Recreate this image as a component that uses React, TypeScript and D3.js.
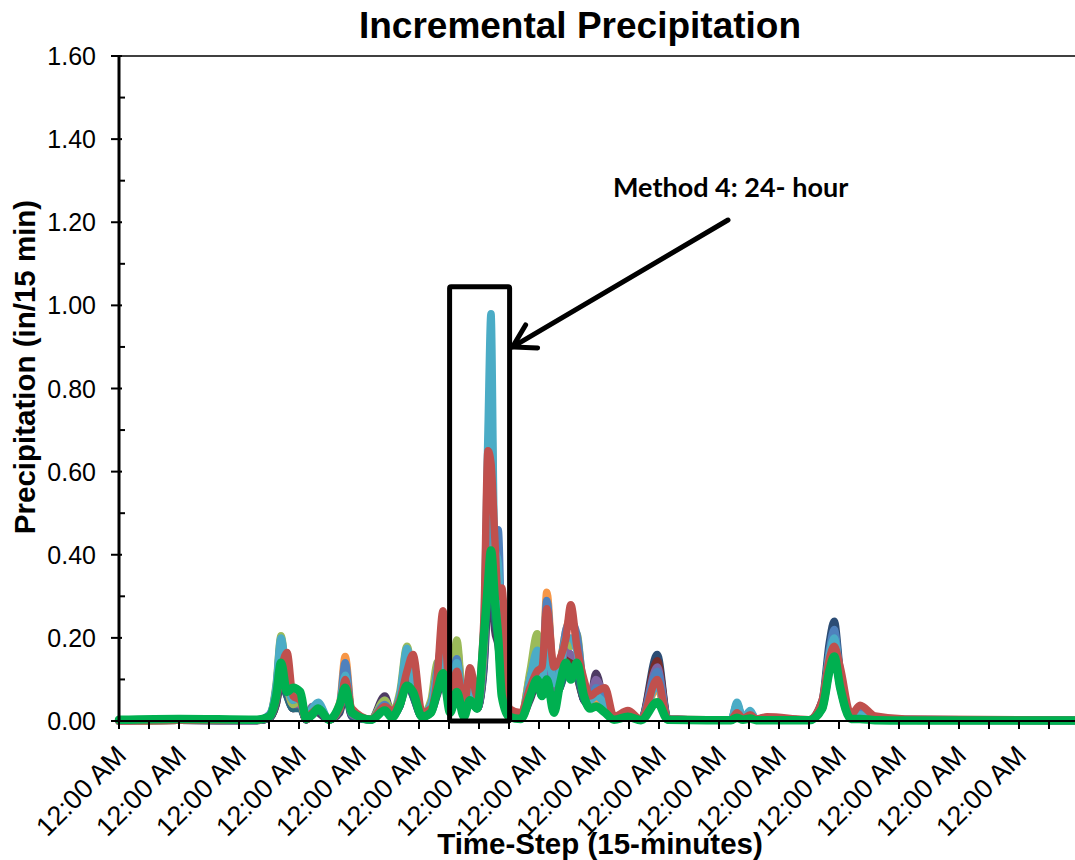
import React from "react";
import * as d3 from "d3";

// sample times, in days from the first 12:00 AM
const times = [
  0, 1.0, 2.3, 2.5, 2.62, 2.7, 2.8, 2.9, 3.02, 3.12, 3.22, 3.32, 3.5, 3.68, 3.77, 3.88,
  4.2, 4.43, 4.55, 4.68, 4.8, 4.9, 5.05, 5.2, 5.3, 5.4, 5.52, 5.63, 5.75, 5.85, 5.97,
  6.08, 6.15, 6.2, 6.26, 6.32, 6.38, 6.5, 6.7, 6.85, 6.97, 7.05, 7.13, 7.25, 7.35, 7.45,
  7.53, 7.63, 7.75, 7.85, 7.95, 8.1, 8.25, 8.48, 8.7, 8.97, 9.15, 9.8, 10.2, 10.3, 10.4, 10.52, 10.62, 10.8,
  11.5, 11.72, 11.84, 11.92, 12.02, 12.2, 12.35, 12.6, 13.1, 16,
];

const blue = [
  0, 0.003, 0.002, 0.015, 0.08, 0.19, 0.1, 0.05, 0.06, 0.005, 0.03, 0.04, 0.003, 0.04, 0.14, 0.02,
  0.003, 0.04, 0.02, 0.06, 0.16, 0.12, 0.015, 0.04, 0.12, 0.2, 0.05, 0.15, 0.02, 0.09, 0.05,
  0.2, 0.6, 0.79, 0.4, 0.46, 0.2, 0.02, 0.01, 0.1, 0.16, 0.1, 0.29, 0.1, 0.13, 0.22,
  0.24, 0.21, 0.08, 0.05, 0.08, 0.05, 0.008, 0.02, 0.003, 0.12, 0.004, 0.002, 0.002, 0.03, 0.005, 0.02, 0.004, 0.008,
  0.002, 0.04, 0.17, 0.22, 0.11, 0.012, 0.02, 0.01, 0.004, 0.001,
];
const red = [
  0, 0.002, 0.002, 0.01, 0.05, 0.12, 0.165, 0.06, 0.05, 0.005, 0.02, 0.03, 0.004, 0.03, 0.1, 0.03,
  0.004, 0.035, 0.025, 0.05, 0.12, 0.16, 0.02, 0.03, 0.1, 0.265, 0.06, 0.12, 0.03, 0.128, 0.06,
  0.24, 0.65, 0.62, 0.45, 0.3, 0.32, 0.03, 0.02, 0.08, 0.12, 0.13, 0.27, 0.13, 0.15, 0.2,
  0.28, 0.18, 0.1, 0.06, 0.07, 0.08, 0.01, 0.025, 0.004, 0.1, 0.005, 0.003, 0.003, 0.02, 0.006, 0.015, 0.005, 0.01,
  0.003, 0.05, 0.15, 0.18, 0.13, 0.015, 0.038, 0.012, 0.005, 0.002,
];
const olive = [
  0, 0.002, 0.002, 0.012, 0.09, 0.205, 0.09, 0.04, 0.05, 0.004, 0.025, 0.035, 0.003, 0.035, 0.12, 0.02,
  0.003, 0.05, 0.02, 0.07, 0.18, 0.1, 0.015, 0.05, 0.14, 0.15, 0.04, 0.195, 0.02, 0.11, 0.04,
  0.18, 0.4, 0.45, 0.44, 0.3, 0.15, 0.02, 0.01, 0.12, 0.21, 0.1, 0.25, 0.1, 0.14, 0.2,
  0.18, 0.21, 0.07, 0.05, 0.07, 0.04, 0.006, 0.02, 0.003, 0.09, 0.003, 0.002, 0.002, 0.02, 0.004, 0.015, 0.003, 0.006,
  0.002, 0.04, 0.16, 0.2, 0.1, 0.01, 0.015, 0.008, 0.003, 0.001,
];
const purple = [
  0, 0.002, 0.001, 0.008, 0.06, 0.17, 0.08, 0.04, 0.04, 0.004, 0.035, 0.03, 0.003, 0.03, 0.1, 0.015,
  0.003, 0.05, 0.015, 0.05, 0.14, 0.09, 0.01, 0.035, 0.09, 0.13, 0.04, 0.18, 0.02, 0.08, 0.03,
  0.15, 0.45, 0.6, 0.3, 0.25, 0.12, 0.015, 0.01, 0.09, 0.14, 0.08, 0.18, 0.08, 0.12, 0.17,
  0.16, 0.15, 0.06, 0.06, 0.1, 0.05, 0.005, 0.02, 0.003, 0.13, 0.004, 0.002, 0.002, 0.03, 0.005, 0.02, 0.004, 0.008,
  0.002, 0.03, 0.14, 0.19, 0.09, 0.01, 0.012, 0.006, 0.003, 0.001,
];
const aqua = [
  0, 0.003, 0.002, 0.012, 0.085, 0.2, 0.1, 0.05, 0.06, 0.005, 0.03, 0.045, 0.003, 0.04, 0.11, 0.02,
  0.003, 0.03, 0.02, 0.06, 0.175, 0.1, 0.015, 0.04, 0.11, 0.17, 0.05, 0.14, 0.02, 0.09, 0.05,
  0.22, 0.7, 0.98, 0.42, 0.38, 0.18, 0.02, 0.01, 0.1, 0.17, 0.09, 0.2, 0.09, 0.12, 0.2,
  0.2, 0.17, 0.07, 0.05, 0.06, 0.04, 0.006, 0.02, 0.003, 0.09, 0.003, 0.002, 0.002, 0.045, 0.006, 0.025, 0.004, 0.008,
  0.002, 0.04, 0.16, 0.2, 0.11, 0.01, 0.015, 0.008, 0.003, 0.001,
];
const orange = [
  0, 0.002, 0.002, 0.01, 0.07, 0.15, 0.09, 0.04, 0.05, 0.004, 0.02, 0.035, 0.003, 0.045, 0.155, 0.025,
  0.003, 0.03, 0.03, 0.05, 0.15, 0.11, 0.015, 0.03, 0.08, 0.14, 0.04, 0.11, 0.02, 0.07, 0.04,
  0.2, 0.55, 0.8, 0.35, 0.3, 0.15, 0.02, 0.01, 0.11, 0.15, 0.1, 0.31, 0.1, 0.14, 0.22,
  0.25, 0.19, 0.08, 0.05, 0.05, 0.04, 0.006, 0.02, 0.003, 0.08, 0.003, 0.002, 0.002, 0.02, 0.004, 0.015, 0.003, 0.006,
  0.002, 0.035, 0.15, 0.19, 0.1, 0.01, 0.02, 0.008, 0.003, 0.001,
];
const darkBlue = [
  0, 0.002, 0.001, 0.008, 0.05, 0.12, 0.07, 0.03, 0.04, 0.003, 0.02, 0.03, 0.003, 0.03, 0.09, 0.015,
  0.003, 0.045, 0.015, 0.04, 0.12, 0.08, 0.01, 0.03, 0.08, 0.12, 0.03, 0.1, 0.015, 0.06, 0.03,
  0.15, 0.4, 0.5, 0.3, 0.25, 0.1, 0.015, 0.008, 0.07, 0.12, 0.07, 0.15, 0.07, 0.1, 0.15,
  0.15, 0.13, 0.05, 0.04, 0.06, 0.03, 0.005, 0.015, 0.003, 0.16, 0.004, 0.002, 0.002, 0.02, 0.004, 0.015, 0.003, 0.006,
  0.002, 0.05, 0.19, 0.24, 0.12, 0.012, 0.015, 0.006, 0.003, 0.001,
];
const darkRed = [
  0, 0.002, 0.001, 0.006, 0.04, 0.1, 0.08, 0.03, 0.035, 0.003, 0.015, 0.025, 0.003, 0.025, 0.08, 0.015,
  0.003, 0.03, 0.015, 0.04, 0.1, 0.09, 0.01, 0.025, 0.07, 0.16, 0.03, 0.09, 0.015, 0.07, 0.03,
  0.14, 0.38, 0.45, 0.28, 0.2, 0.12, 0.015, 0.008, 0.06, 0.1, 0.07, 0.14, 0.07, 0.09, 0.13,
  0.16, 0.11, 0.05, 0.04, 0.05, 0.04, 0.005, 0.015, 0.003, 0.145, 0.004, 0.002, 0.002, 0.015, 0.004, 0.01, 0.003, 0.005,
  0.002, 0.04, 0.15, 0.17, 0.1, 0.01, 0.02, 0.006, 0.003, 0.001,
];
const darkPurple = [
  0, 0.002, 0.001, 0.006, 0.04, 0.09, 0.06, 0.03, 0.035, 0.003, 0.03, 0.02, 0.003, 0.02, 0.07, 0.01,
  0.003, 0.06, 0.015, 0.035, 0.09, 0.06, 0.01, 0.02, 0.06, 0.1, 0.03, 0.13, 0.015, 0.05, 0.03,
  0.12, 0.3, 0.38, 0.22, 0.18, 0.09, 0.012, 0.008, 0.05, 0.09, 0.06, 0.12, 0.06, 0.08, 0.12,
  0.12, 0.12, 0.05, 0.05, 0.115, 0.03, 0.004, 0.015, 0.003, 0.12, 0.003, 0.002, 0.002, 0.03, 0.005, 0.012, 0.003, 0.005,
  0.002, 0.03, 0.12, 0.16, 0.08, 0.008, 0.01, 0.005, 0.002, 0.001,
];
const teal = [
  0, 0.002, 0.001, 0.006, 0.045, 0.11, 0.06, 0.03, 0.03, 0.003, 0.02, 0.025, 0.003, 0.025, 0.075, 0.012,
  0.003, 0.025, 0.012, 0.035, 0.1, 0.06, 0.01, 0.025, 0.065, 0.11, 0.03, 0.09, 0.015, 0.05, 0.03,
  0.13, 0.35, 0.42, 0.25, 0.2, 0.1, 0.012, 0.008, 0.06, 0.1, 0.06, 0.13, 0.06, 0.08, 0.12,
  0.13, 0.11, 0.05, 0.035, 0.05, 0.03, 0.004, 0.015, 0.003, 0.1, 0.003, 0.002, 0.002, 0.04, 0.005, 0.015, 0.003, 0.005,
  0.002, 0.04, 0.14, 0.18, 0.09, 0.008, 0.01, 0.005, 0.002, 0.001,
];
const method4 = [
  0.003, 0.005, 0.003, 0.01, 0.06, 0.14, 0.07, 0.08, 0.07, 0.005, 0.015, 0.03, 0.003, 0.04, 0.08, 0.02,
  0.003, 0.025, 0.008, 0.04, 0.085, 0.07, 0.01, 0.02, 0.07, 0.115, 0.02, 0.07, 0.01, 0.05, 0.03,
  0.2, 0.33, 0.41, 0.3, 0.2, 0.06, 0.01, 0.005, 0.06, 0.1, 0.06, 0.1, 0.02, 0.09, 0.14,
  0.1, 0.14, 0.06, 0.03, 0.035, 0.02, 0.003, 0.01, 0.002, 0.045, 0.003, 0.002, 0.002, 0.008, 0.003, 0.006, 0.002, 0.002,
  0.002, 0.03, 0.12, 0.155, 0.08, 0.005, 0.005, 0.002, 0.001, 0.001,
];

// drawing order: later series sit on top
const seriesList = [
  { values: darkBlue, color: "#2C4D75" },
  { values: darkRed, color: "#772C2A" },
  { values: darkPurple, color: "#4D3B62" },
  { values: teal, color: "#276A7C" },
  { values: purple, color: "#8064A2" },
  { values: orange, color: "#F79646" },
  { values: olive, color: "#9BBB59" },
  { values: blue, color: "#4F81BD" },
  { values: aqua, color: "#4BACC6" },
  { values: red, color: "#C0504D" },
  { values: method4, color: "#00B050" },
];

const yTicks = [0, 0.2, 0.4, 0.6, 0.8, 1.0, 1.2, 1.4, 1.6];
const labelDays = d3.range(0, 16);
const tickHalfDays = d3.range(0, 16, 0.5);
const dayLabel = "12:00 AM";

// highlighted window (data units)
const boxDays = [5.51, 6.51];
const boxTop = 1.045;

const W = 1075;
const H = 860;
const FONT = "'Liberation Sans', Arial, sans-serif";

export default function App() {
  const x = d3.scaleLinear().domain([0, 16]).range([119, 1079]);
  const y = d3.scaleLinear().domain([0, 1.6]).range([721, 56]);

  const line = d3
    .line<number>()
    .x((d, i) => x(times[i]))
    .y((d) => y(d))
    .curve(d3.curveMonotoneX);

  const minorTicks = yTicks.slice(0, -1).map((v) => v + 0.1);

  // arrow geometry
  const tip = [x(boxDays[1]) + 3, y(0.9)];
  const tail = [728, 220];

  return (
    <svg width={W} height={H} style={{ position: "absolute", left: 0, top: 0, background: "#fff" }}>
      <text x={580} y={38} textAnchor="middle" fontFamily={FONT} fontWeight="bold" fontSize={37}>
        Incremental Precipitation
      </text>

      {/* plot top border */}
      <line x1={111} x2={W} y1={y(1.6)} y2={y(1.6)} stroke="#000" strokeWidth={1.5} />

      {/* series */}
      <g fill="none" strokeLinecap="round" strokeLinejoin="round">
        {seriesList.map((s, i) => (
          <path key={i} d={line(s.values) || ""} stroke={s.color} strokeWidth={i === seriesList.length - 1 ? 8.5 : 7.5} />
        ))}
      </g>

      {/* y axis */}
      <line x1={119} x2={119} y1={y(1.6)} y2={y(0) + 1} stroke="#000" strokeWidth={3} />
      {yTicks.map((v) => (
        <g key={v}>
          <line x1={111} x2={122} y1={y(v)} y2={y(v)} stroke="#000" strokeWidth={2} />
          <text x={96} y={y(v) + 9} textAnchor="end" fontFamily={FONT} fontSize={25}>
            {v.toFixed(2)}
          </text>
        </g>
      ))}
      {minorTicks.map((v) => (
        <line key={v} x1={119} x2={125} y1={y(v)} y2={y(v)} stroke="#000" strokeWidth={2} />
      ))}

      {/* x axis */}
      <line x1={119} x2={W} y1={y(0)} y2={y(0)} stroke="#000" strokeWidth={2} />
      {tickHalfDays.map((d) => (
        <line key={d} x1={x(d)} x2={x(d)} y1={y(0)} y2={y(0) + 8} stroke="#000" strokeWidth={2} />
      ))}
      {labelDays.map((d) => (
        <text
          key={d}
          transform={`translate(${x(d) + 9},${y(0) + 36}) rotate(-45)`}
          textAnchor="end"
          fontFamily={FONT}
          fontSize={27}
        >
          {dayLabel}
        </text>
      ))}

      <text x={600} y={854} textAnchor="middle" fontFamily={FONT} fontWeight="bold" fontSize={29.5}>
        Time-Step (15-minutes)
      </text>
      <text
        transform={`translate(35,367) rotate(-90)`}
        textAnchor="middle"
        fontFamily={FONT}
        fontWeight="bold"
        fontSize={29.5}
      >
        Precipitation (in/15 min)
      </text>

      {/* annotation */}
      <rect
        x={x(boxDays[0])}
        y={y(boxTop)}
        width={x(boxDays[1]) - x(boxDays[0])}
        height={y(0) - y(boxTop)}
        fill="none"
        stroke="#000"
        strokeWidth={5}
        rx={1.5}
      />
      <g stroke="#000" strokeWidth={5} strokeLinecap="round" fill="none">
        <line x1={tail[0]} y1={tail[1]} x2={tip[0]} y2={tip[1]} />
        <polyline points={`${tip[0] + 13},${tip[1] - 22} ${tip[0]},${tip[1]} ${tip[0] + 25},${tip[1] + 1}`} strokeLinejoin="miter" />
      </g>
      <text x={613} y={197} fontFamily="Lato, 'Open Sans', sans-serif" fontWeight="bold" fontSize={27}>
        Method 4: 24- hour
      </text>
    </svg>
  );
}
